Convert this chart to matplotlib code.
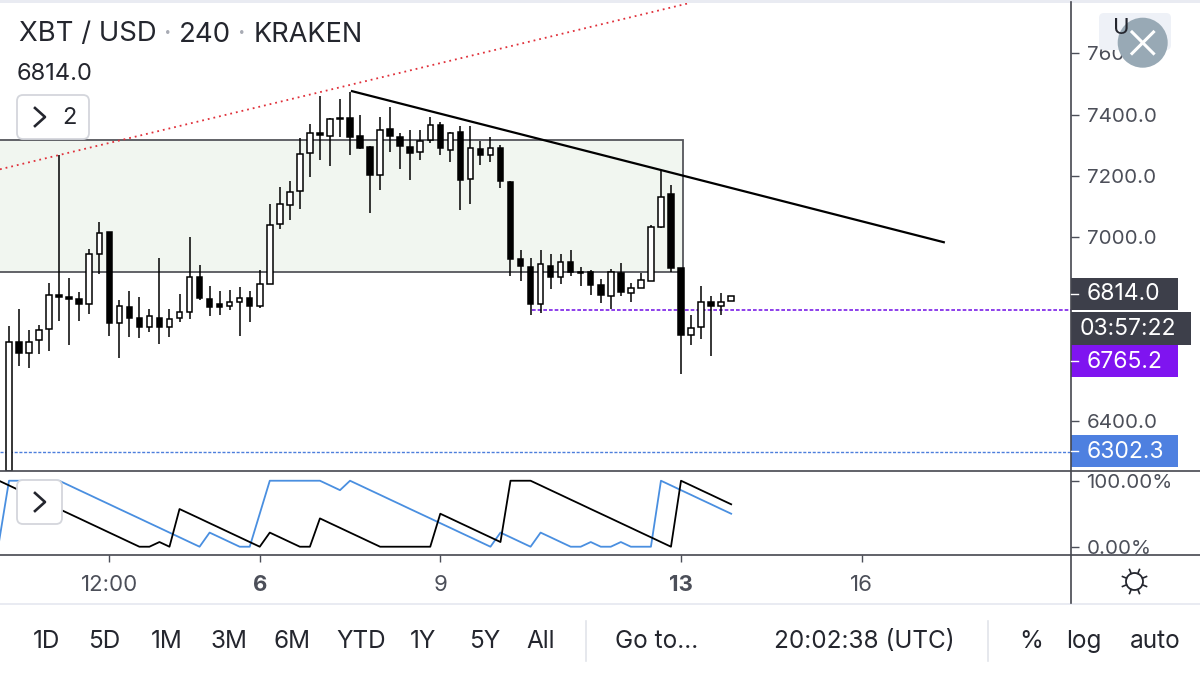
import numpy as np
import matplotlib
matplotlib.use("Agg")
import matplotlib.pyplot as plt
from matplotlib.patches import FancyBboxPatch, Rectangle, Circle

plt.rcParams['font.family'] = ['Inter', 'DejaVu Sans']

# candle values, one per 4h bar
highs = [6709, 6765, 6696, 6715, 6851, 7268, 6868, 6822, 6963, 7051, 7018, 6797, 6824, 6805, 6767, 6933, 6765, 6816, 7000,
         6910, 6841, 6824, 6829, 6838, 6824, 6894, 7110, 7163, 7183, 7323, 7369, 7460, 7388, 7451, 7474, 7399, 7297,
         7394, 7424, 7339, 7350, 7350, 7393, 7377, 7344, 7364, 7363, 7315, 7326, 7302, 7183, 6960, 6932, 6960, 6944,
         6944, 6960, 6903, 6894, 6865, 6895, 6915, 6851, 6883, 7040, 7217, 7170, 6901, 6748, 6840, 6810, 6818, 6810]
tops = [6658, 6658, 6660, 6698, 6811, 6812, 6806, 6798, 6947, 7015, 7016, 6776, 6773, 6736, 6743, 6738, 6734, 6755, 6870,
        6870, 6800, 6783, 6790, 6802, 6803, 6847, 7041, 7108, 7148, 7273, 7340, 7341, 7385, 7391, 7391, 7332, 7295,
        7351, 7352, 7326, 7296, 7314, 7367, 7365, 7341, 7344, 7291, 7288, 7291, 7291, 7182, 6929, 6902, 6914, 6908,
        6919, 6919, 6888, 6888, 6843, 6888, 6884, 6834, 6861, 7035, 7132, 7140, 6899, 6704, 6790, 6790, 6790, 6810]
bottoms = [6239, 6623, 6624, 6664, 6702, 6805, 6800, 6783, 6781, 6946, 6722, 6722, 6736, 6706, 6707, 6708, 6707, 6736, 6757,
           6802, 6773, 6774, 6776, 6790, 6776, 6776, 6849, 7042, 7107, 7152, 7275, 7334, 7331, 7387, 7329, 7292, 7205,
           7204, 7331, 7299, 7276, 7277, 7318, 7291, 7286, 7188, 7189, 7270, 7269, 7184, 6929, 6908, 6782, 6781, 6870,
           6871, 6888, 6884, 6844, 6811, 6809, 6820, 6818, 6835, 6859, 7035, 6899, 6681, 6682, 6707, 6777, 6777, 6793]
lows = [6230, 6580, 6574, 6618, 6629, 6727, 6647, 6726, 6751, 6879, 6678, 6607, 6674, 6672, 6692, 6653, 6674, 6724, 6732,
        6797, 6743, 6748, 6762, 6679, 6724, 6770, 6849, 7027, 7056, 7091, 7198, 7253, 7232, 7328, 7270, 7288, 7079,
        7156, 7279, 7223, 7187, 7252, 7308, 7269, 7246, 7090, 7108, 7236, 7246, 7161, 6874, 6858, 6746, 6753, 6830,
        6849, 6873, 6840, 6811, 6786, 6765, 6808, 6790, 6835, 6859, 7032, 6887, 6554, 6648, 6667, 6613, 6746, 6793]
# 1 = hollow (up) candle, 0 = filled (down) candle
up = [1, 0, 1, 1, 1, 0, 0, 0, 1, 1, 0, 1, 0, 0, 1, 0, 1, 1, 1,
      0, 0, 0, 1, 1, 0, 1, 1, 1, 1, 1, 1, 0, 1, 0, 0, 0, 0,
      1, 0, 0, 0, 1, 1, 0, 1, 0, 1, 0, 1, 0, 0, 0, 0, 1, 0,
      1, 0, 0, 0, 0, 1, 0, 1, 1, 1, 1, 0, 0, 1, 1, 0, 1, 1]

# oscillator, first value sits one bar before the first candle
osc_blue = [7.1, 100, 100, 100, 100, 100, 100, 92.9, 85.7, 78.6, 71.4, 64.3, 57.1, 50, 42.9, 35.7, 28.6, 21.4, 14.3, 7.1, 0,
            21.4, 14.3, 7.1, 0, 0, 50, 100, 100, 100, 100, 100, 100, 92.9, 85.7, 100, 92.9, 85.7, 78.6, 71.4, 64.3,
            57.1, 50, 42.9, 35.7, 28.6, 21.4, 14.3, 7.1, 0, 21.4, 14.3, 7.1, 0, 21.4, 14.3, 7.1, 0, 0, 7.1, 0, 0, 7.1,
            0, 0, 0, 100, 92.9, 85.7, 78.6, 71.4, 64.3, 57.1, 50]
osc_black = [100, 92.9, 85.7, 78.6, 71.4, 64.3, 57.1, 50, 42.9, 35.7, 28.6, 21.4, 14.3, 7.1, 0, 0, 7.1, 0, 57.1, 50, 42.9,
             35.7, 28.6, 21.4, 14.3, 7.1, 0, 21.4, 14.3, 7.1, 0, 0, 42.9, 35.7, 28.6, 21.4, 14.3, 7.1, 0, 0, 0, 0, 0, 0,
             50, 42.9, 35.7, 28.6, 21.4, 14.3, 7.1, 100, 100, 100, 92.9, 85.7, 78.6, 71.4, 64.3, 57.1, 50, 42.9, 35.7,
             28.6, 21.4, 14.3, 7.1, 0, 100, 92.9, 85.7, 78.6, 71.4, 64.3]

price_ticks = [7600, 7400, 7200, 7000, 6400]
osc_ticks = [100, 0]
osc_tick_labels = ['100.00%', '0.00%']
time_ticks = [10, 25, 43, 67, 85]
time_labels = ['12:00', '6', '9', '13', '16']
time_bold = [False, True, False, True, False]

zone_x = [-2, 67.2]
zone_y = [6887, 7316]
red_x = [-0.9, 67.9]
red_y = [7222, 7765]
trend_x = [34.2, 93.2]
trend_y = [7477, 6984]
purple_x = 52.1
purple_y = 6762
blue_y = 6298

range_buttons = ['1D', '5D', '1M', '3M', '6M', 'YTD', '1Y', '5Y', 'All']
range_x = [46, 104, 167, 229, 292, 361, 423, 485, 541]

GREY = '#4c4f59'
W, H = 1200, 675


def pane(fig, top, bottom):
    return fig.add_axes([0, 1 - bottom / H, 1071 / W, (bottom - top) / H])


fig = plt.figure(figsize=(12, 6.75), dpi=100, facecolor='white')
ax = pane(fig, 2, 470.5)
osc = pane(fig, 470.5, 554.5)
# bar i sits at 9 + 10.03 i pixels
x_lim = (-9 / 10.03, (1071 - 9) / 10.03)

# main pane
idx = np.arange(len(highs))
ax.add_patch(Rectangle((zone_x[0], zone_y[0]), zone_x[1] - zone_x[0], zone_y[1] - zone_y[0],
                       facecolor='#f1f6f0', edgecolor='#55565c', lw=1.3, zorder=1))
ax.plot(red_x, red_y, color='#e0303a', lw=1.3, ls=(0, (1, 2.2)), zorder=2)
ax.plot([purple_x, x_lim[1]], [purple_y, purple_y], color='#7a1fe8', lw=1.2, ls=(0, (2.2, 1.2)), zorder=2)
ax.plot([x_lim[0], x_lim[1]], [blue_y, blue_y], color='#4d7fdc', lw=1.0, ls=(0, (2.2, 1.2)), zorder=2)
ax.vlines(idx, lows, highs, color='black', lw=1.1, zorder=3)
face = ['white' if u else 'black' for u in up]
ax.bar(idx, np.array(tops) - np.array(bottoms), bottom=bottoms, width=0.55, color=face,
       edgecolor='black', linewidth=1.1, zorder=4)
ax.plot(trend_x, trend_y, color='black', lw=1.6, zorder=5)
ax.set_xlim(*x_lim)
ax.set_ylim(6239, 7768)
ax.set_xticks([])
ax.yaxis.tick_right()
ax.set_yticks(price_ticks)
ax.set_yticklabels([f'{p:.1f}' for p in price_ticks], fontsize=14.8)
ax.tick_params(axis='y', length=5.7, width=1, color=GREY, labelcolor=GREY, pad=5.5)
for s in ax.spines.values():
    s.set_visible(False)
ax.patch.set_alpha(0)

# oscillator pane
osc_idx = np.arange(-1, len(osc_blue) - 1)
osc.plot(osc_idx, osc_blue, color='#4a8fe0', lw=1.3)
osc.plot(osc_idx[:len(osc_black)], osc_black, color='black', lw=1.3)
osc.set_xlim(*x_lim)
osc.set_ylim(-11.8, 115.5)
osc.yaxis.tick_right()
osc.set_yticks(osc_ticks)
osc.set_yticklabels(osc_tick_labels, fontsize=14.8)
osc.tick_params(axis='y', length=5.7, width=1, color=GREY, labelcolor=GREY, pad=5.5)
osc.set_xticks(time_ticks)
osc.set_xticklabels(time_labels, fontsize=16)
osc.tick_params(axis='x', length=5, width=1, color=GREY, labelcolor=GREY, pad=10)
for lab, bold in zip(osc.get_xticklabels(), time_bold):
    if bold:
        lab.set_fontweight('bold')
for s in osc.spines.values():
    s.set_visible(False)
osc.patch.set_alpha(0)

# interface layer, in screen pixels
ui = fig.add_axes([0, 0, 1, 1], zorder=10)
ui.set_xlim(0, W)
ui.set_ylim(H, 0)
ui.axis('off')
ui.patch.set_alpha(0)

ui.add_patch(Rectangle((0, 0), W, 2.5, color='#e9ebf2', lw=0))
ui.add_patch(Rectangle((0, 603), W, 2, color='#e9ebf2', lw=0))
ui.plot([0, W], [470.5, 470.5], color='#45474f', lw=1.2)
ui.plot([0, W], [554.5, 554.5], color='#45474f', lw=1.2)
ui.plot([1071, 1071], [2, 603], color='#45474f', lw=1.2)


def ui_text(x, y, s, size=15.5, color='#24262e', ha='left', **kw):
    ui.text(x, y + 1.5, s, fontsize=size, color=color, ha=ha, va='center', **kw)


# header
ui_text(19, 33, 'XBT / USD', 19.8)
ui_text(168, 33, '·', 19, '#a8abb4', ha='center')
ui_text(179, 33, '240', 19.8)
ui_text(242, 33, '·', 19, '#a8abb4', ha='center')
ui_text(254, 33, 'KRAKEN', 19.5)
ui_text(17, 73, '6814.0', 17)


def chevron_box(x0, y0, x1, y1, cx, cy):
    ui.add_patch(FancyBboxPatch((x0, y0), x1 - x0, y1 - y0, boxstyle='round,pad=0,rounding_size=6',
                                facecolor='white', edgecolor='#d4d6dc', lw=1.3))
    ui.plot([cx - 5, cx + 5, cx - 5], [cy - 9, cy, cy + 9], color='#24262e', lw=1.9)


chevron_box(17, 95, 89, 139, 40, 117)
ui_text(69, 116, '2', 17, ha='center')
chevron_box(17, 480, 62, 524, 40, 502)

# price labels on the scale
for y0, y1, x1, col, s in [(278, 310, 1178, '#3d3f4a', '6814.0'),
                           (312, 345, 1191, '#3d3f4a', '03:57:22'),
                           (345, 377, 1178, '#7f14f0', '6765.2'),
                           (435, 467, 1178, '#4e80e0', '6302.3')]:
    ui.add_patch(Rectangle((1071, y0), x1 - 1071, y1 - y0, color=col, lw=0))
    ui_text(1087 if s != '03:57:22' else 1080, (y0 + y1) / 2 - 1, s, 16.5, 'white')
    if s != '03:57:22':
        ui.plot([1071, 1078], [(y0 + y1) / 2 - 0.5] * 2, color='white', lw=1)

# currency button and the close circle over it
ui.add_patch(FancyBboxPatch((1099, 13), 72, 37, boxstyle='round,pad=0,rounding_size=5', facecolor='#eef1f7', lw=0))
ui_text(1113, 27, 'U', 16)
ui.add_patch(Circle((1142.7, 42.7), 25, color='#98a9b5', lw=0))
ui.plot([1132, 1153.5], [32, 53.5], color='white', lw=2.2)
ui.plot([1132, 1153.5], [53.5, 32], color='white', lw=2.2)

# settings icon
ui.add_patch(Circle((1134.5, 581.5), 8.5, facecolor='white', edgecolor='#24262e', lw=1.3))
for a in np.arange(0, 360, 45) + 22.5:
    r = np.deg2rad(a)
    ui.plot([1134.5 + 9 * np.cos(r), 1134.5 + 13 * np.cos(r)], [581.5 + 9 * np.sin(r), 581.5 + 13 * np.sin(r)],
            color='#24262e', lw=1.2)

# bottom toolbar
for x, s in zip(range_x, range_buttons):
    ui_text(x, 640, s, 17.5, ha='center')
ui.plot([586, 586], [621, 661], color='#e2e4ea', lw=1.2)
ui.plot([988, 988], [621, 661], color='#e2e4ea', lw=1.2)
ui_text(657, 640, 'Go to...', 17.5, ha='center')
ui_text(864, 640, '20:02:38 (UTC)', 17.5, ha='center')
ui_text(1031, 640, '%', 17.5, ha='center')
ui_text(1084, 640, 'log', 17.5, ha='center')
ui_text(1155, 640, 'auto', 17.5, ha='center')

fig.savefig('out.png', dpi=100)
